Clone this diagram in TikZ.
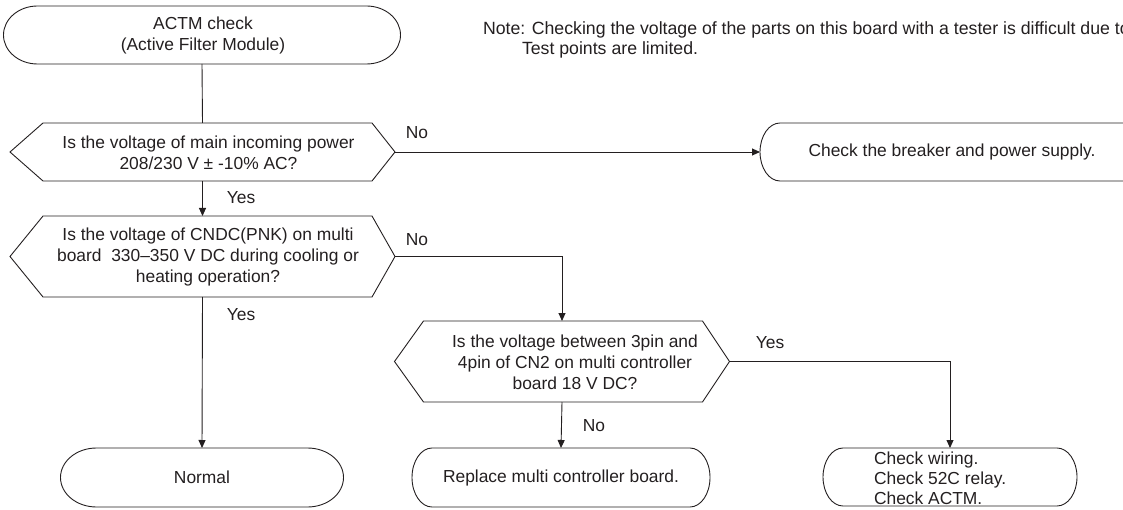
\documentclass[tikz,border=0pt]{standalone}
\usepackage{fontspec}
\setmainfont{Liberation Sans}
\usetikzlibrary{arrows.meta}
\definecolor{ink}{HTML}{231F20}
\tikzset{
  shapebox/.style={draw=none, inner sep=0pt, outer sep=0pt, rectangle},
  txt/.style={inner sep=0pt, outer sep=0pt, text=ink, align=center,
    font=\fontsize{17.4}{20.8}\selectfont},
  lbl/.style={inner sep=0pt, outer sep=0pt, text=ink, font=\fontsize{17.4}{20}\selectfont},
  outline/.style={draw=ink, line width=0.9pt},
  flow/.style={draw=ink, line width=0.9pt},
  arr/.style={flow, -{Triangle[length=8pt,width=7pt]}},
}
\newcommand\terminalpath[3]{%
  \draw[outline] ([xshift=#2pt]#1.north west) -- ([xshift=-#2pt]#1.north east)
    arc[start angle=90,end angle=-90,x radius=#2pt,y radius=#3pt]
    -- ([xshift=#2pt]#1.south west)
    arc[start angle=270,end angle=90,x radius=#2pt,y radius=#3pt] -- cycle;}
\newcommand\hexpath[3]{%
  \draw[outline] (#1.west) -- ([xshift=#2pt]#1.north west) -- ([xshift=-#3pt]#1.north east)
    -- (#1.east) -- ([xshift=-#3pt]#1.south east) -- ([xshift=#2pt]#1.south west) -- cycle;}
\begin{document}
\begin{tikzpicture}[x=1pt,y=-1pt]
\useasboundingbox (0,0) rectangle (1123,510);
\clip (0,0) rectangle (1123,510);

% shapes
\node[shapebox, minimum width=397pt, minimum height=58pt] (start) at (202,35) {};
\node[shapebox, minimum width=385pt, minimum height=58pt] (d1) at (202.5,152) {};
\node[shapebox, minimum width=385pt, minimum height=81pt] (d2) at (202.5,256.5) {};
\node[shapebox, minimum width=335pt, minimum height=81pt] (d3) at (562,361.5) {};
\node[shapebox, minimum width=390pt, minimum height=58pt] (brk) at (955,152) {};
\node[shapebox, minimum width=283pt, minimum height=59pt] (norm) at (202,477.5) {};
\node[shapebox, minimum width=298pt, minimum height=59pt] (repl) at (561,477.5) {};
\node[shapebox, minimum width=254pt, minimum height=58pt] (wire) at (950,477) {};

\terminalpath{start}{34}{29}
\terminalpath{brk}{20}{29}
\terminalpath{norm}{36}{29.5}
\terminalpath{repl}{20}{29.5}
\terminalpath{wire}{20}{29}
\hexpath{d1}{33}{23}
\hexpath{d2}{33}{23}
\hexpath{d3}{29}{27}

% texts
\node[txt] (starttxt) at (203,35.5) {ACTM check\\(Active Filter Module)};
\node[txt] (d1txt) at (208.5,152.5) {Is the voltage of main incoming power\\208/230 V ± -10\% AC?};
\node[txt] (d2txt) at (208,257) {Is the voltage of CNDC(PNK) on multi\\board\ \ 330–350 V DC during cooling or\\heating operation?};
\node[txt] (d3txt) at (575,362) {Is the voltage between 3pin and\\4pin of CN2 on multi controller\\board 18 V DC?};
\node[txt] (brktxt) at (952,152) {Check the breaker and power supply.};
\node[txt] (normtxt) at (202,477.5) {Normal};
\node[txt] (repltxt) at (561,477.5) {Replace multi controller board.};
\node[txt, align=left, anchor=west, font=\fontsize{17.4}{20}\selectfont] (wiretxt) at (874,478.5) {Check wiring.\\Check 52C relay.\\Check ACTM.};

\node[lbl, anchor=west, font=\fontsize{17.7}{20}\selectfont] (note1) at (483,30) {Note: Checking the voltage of the parts on this board with a tester is difficult due to};
\node[lbl, anchor=west, font=\fontsize{17.7}{20}\selectfont] (note2) at (522,50) {Test points are limited.};

% connectors
\draw[flow] (start.south) -- (d1.north);
\draw[arr] (d1.east) -- (brk.west);
\draw[arr] (d1.south) -- (d2.north);
\draw[arr] (d2.south) -- (norm.north);
\draw[arr] (d2.east) -| (d3.north);
\draw[arr] (d3.south) -- (repl.north);
\draw[arr] (d3.east) -| (wire.north);

% labels
\node[lbl] (l1) at (417,133) {No};
\node[lbl] (l2) at (241,198) {Yes};
\node[lbl] (l3) at (417,240) {No};
\node[lbl] (l4) at (241,315) {Yes};
\node[lbl] (l5) at (770,343) {Yes};
\node[lbl] (l6) at (594,426) {No};
\end{tikzpicture}
\end{document}
